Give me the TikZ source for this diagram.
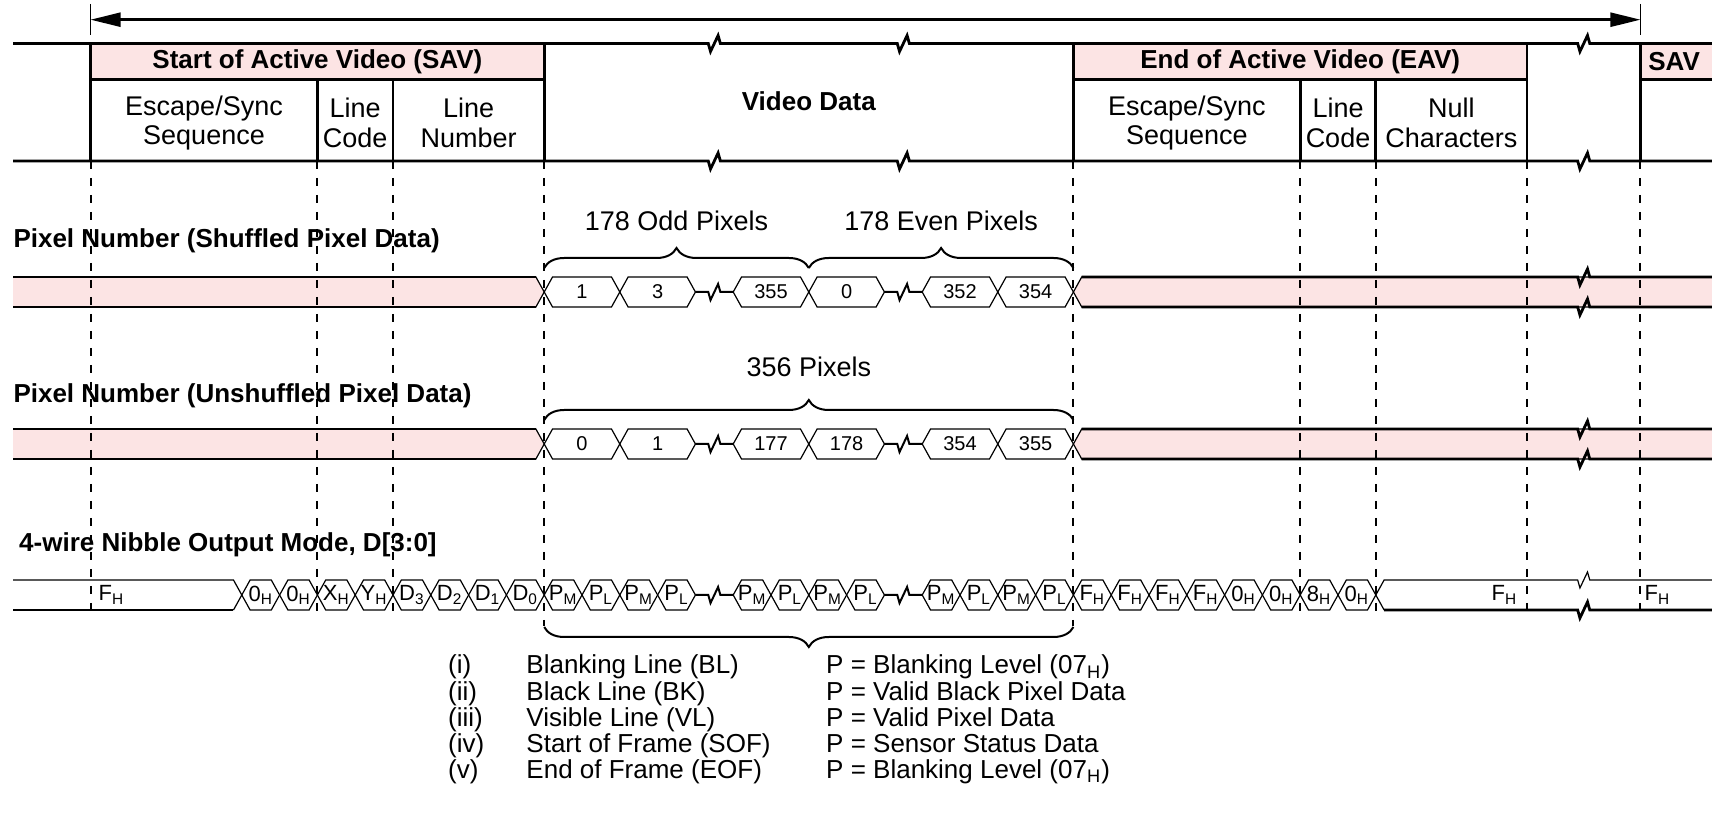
\documentclass[tikz,border=0pt]{standalone}
\usepackage{fontspec}
\setmainfont{Liberation Sans}
\usetikzlibrary{arrows.meta,decorations.pathreplacing}

\definecolor{pinkfill}{RGB}{252,228,228}
\newcommand\idx[1]{\textsubscript{#1}}
\newcommand\edg{0.22}

\begin{document}
\begin{tikzpicture}[x=18.9pt, y=-0.5pt,
  bus/.style={line width=1.4pt},
  cell/.style={line width=0.6pt},
  joint/.style={line width=1pt},
  vguide/.style={line width=1pt, dash pattern=on 4pt off 4.5pt},
  head/.style={font=\fontsize{13}{15}\selectfont\bfseries, inner sep=0pt},
  txt/.style={font=\fontsize{13.5}{14.75}\selectfont, align=center, inner sep=0pt},
  lgd/.style={font=\fontsize{13}{14}\selectfont, inner sep=0pt, anchor=base west},
  nib/.style={font=\fontsize{11}{12}\selectfont, inner sep=0pt},
  pix/.style={font=\fontsize{10}{11}\selectfont, inner sep=0pt},
  lnbreak/.style={insert path={-- ++(0.06,8) -- ++(0.2,-16) -- ++(0.06,8)}},
  brc/.style={decorate, decoration={brace, amplitude=10pt}, line width=1pt}]
\useasboundingbox (-2.397,0) rectangle (42.894,838);

% top span arrow
\coordinate (al) at (0,19.7);
\coordinate (ar) at (41,19.7);
\draw[line width=1.3pt, {Triangle[length=15pt,width=7pt]}-{Triangle[length=15pt,width=7pt]}] (al) -- (ar);
\draw[cell] (0,4) -- (0,35) (41,4) -- (41,35);

% header table
\fill[pinkfill] (0,43.5) rectangle (12,79.5) (26,43.5) rectangle (38,79.5) (41,43.5) rectangle (42.9,79.5);
\foreach \y in {43.5,161}
  \draw[bus] (-2.05,\y) -- (16.34,\y) [lnbreak] -- (21.34,\y) [lnbreak] -- (39.34,\y) [lnbreak] -- (42.9,\y);
\draw[bus] (0,79.5) -- (12,79.5) (26,79.5) -- (38,79.5) (41,79.5) -- (42.9,79.5);
\foreach \x in {0,12,26,38,41} \draw[bus] (\x,43.5) -- (\x,161);
\foreach \x in {6,8,32,34} \draw[bus] (\x,79.5) -- (\x,161);

\node[head] (sav) at (6,61.5) {Start of Active Video (SAV)};
\node[head] (eav) at (32,61.5) {End of Active Video (EAV)};
\node[head, anchor=west] (savnext) at (41.2,61.5) {SAV};
\node[head] (vdata) at (19,101) {Video Data};
\node[txt] (esc1) at (3,123) {Escape/Sync\\Sequence};
\node[txt] (lcode1) at (7,123) {Line\\Code};
\node[txt] (lnum) at (10,123) {Line\\Number};
\node[txt] (esc2) at (29,123) {Escape/Sync\\Sequence};
\node[txt] (lcode2) at (33,123) {Line\\Code};
\node[txt] (nullc) at (36,123) {Null\\Characters};

% row labels
\node[head, anchor=west] (lshuf) at (-2.05,241) {Pixel Number (Shuffled Pixel Data)};
\node[head, anchor=west] (lunsh) at (-2.05,396) {Pixel Number (Unshuffled Pixel Data)};
\node[head, anchor=west] (lnib) at (-1.9,545) {4-wire Nibble Output Mode, D[3:0]};

% pink buses
\foreach \y in {292,444} {
  \filldraw[cell, fill=pinkfill] (-2.05,\y-15) -- (12-\edg,\y-15) -- (12,\y) -- (12-\edg,\y+15) -- (-2.05,\y+15);
  \draw[bus] (-2.05,\y-15) -- (12-\edg,\y-15) (-2.05,\y+15) -- (12-\edg,\y+15);
  \filldraw[cell, fill=pinkfill] (42.9,\y-15) -- (26+\edg,\y-15) -- (26,\y) -- (26+\edg,\y+15) -- (42.9,\y+15);
  \draw[bus] (26+\edg,\y-15) -- (39.34,\y-15) [lnbreak] -- (42.9,\y-15)
    (26+\edg,\y+15) -- (39.34,\y+15) [lnbreak] -- (42.9,\y+15);
}

% pixel cells
\foreach \a/\t [count=\i] in {12/1,14/3,17/355,19/0,22/352,24/354}
  \draw[cell] (\a,292) -- (\a+\edg,277) -- (\a+2-\edg,277) -- (\a+2,292) -- (\a+2-\edg,307) -- (\a+\edg,307) -- cycle
    node[pix] (sp\i) at (\a+1,292) {\t};
\foreach \a/\t [count=\i] in {12/0,14/1,17/177,19/178,22/354,24/355}
  \draw[cell] (\a,444) -- (\a+\edg,429) -- (\a+2-\edg,429) -- (\a+2,444) -- (\a+2-\edg,459) -- (\a+\edg,459) -- cycle
    node[pix] (up\i) at (\a+1,444) {\t};

% nibble cells
\foreach \a/\t [count=\i] in {4/0\idx{H},5/0\idx{H},6/X\idx{H},7/Y\idx{H},8/D\idx{3},9/D\idx{2},10/D\idx{1},11/D\idx{0},
    12/P\idx{M},13/P\idx{L},14/P\idx{M},15/P\idx{L},17/P\idx{M},18/P\idx{L},19/P\idx{M},20/P\idx{L},
    22/P\idx{M},23/P\idx{L},24/P\idx{M},25/P\idx{L},26/F\idx{H},27/F\idx{H},28/F\idx{H},29/F\idx{H},
    30/0\idx{H},31/0\idx{H},32/8\idx{H},33/0\idx{H}}
  \draw[cell] (\a,595) -- (\a+\edg,580) -- (\a+1-\edg,580) -- (\a+1,595) -- (\a+1-\edg,610) -- (\a+\edg,610) -- cycle
    node[nib] (nb\i) at (\a+0.5,595) {\t};
\draw[cell] (-2.05,580) -- (4-\edg,580) -- (4,595) -- (4-\edg,610);
\draw[bus] (4-\edg,610) -- (-2.05,610);
\draw[cell] (34+\edg,610) -- (34,595) -- (34+\edg,580) -- (39.34,580) [lnbreak] -- (42.9,580);
\draw[bus] (34+\edg,610) -- (39.34,610) [lnbreak] -- (42.9,610);
\node[nib] (fh1) at (0.55,595) {F\idx{H}};
\node[nib] (fh2) at (37.4,595) {F\idx{H}};
\node[nib] (fh3) at (41.45,595) {F\idx{H}};

% skipped stretches
\foreach \y in {292,444,595}
  \draw[joint] (16,\y) -- (16.34,\y) [lnbreak] -- (17,\y) (21,\y) -- (21.34,\y) [lnbreak] -- (22,\y);

% braces
\draw[brc] (12,268) -- (19,268);
\draw[brc] (19,268) -- (26,268);
\draw[brc] (12,420) -- (26,420);
\draw[brc] (26,627) -- (12,627);
\node[txt] (odd) at (15.5,221) {178 Odd Pixels};
\node[txt] (even) at (22.5,221) {178 Even Pixels};
\node[txt] (allpx) at (19,367) {356 Pixels};

% guide lines
\foreach \x in {0,6,8,32,34,38,41} \draw[vguide] (\x,161) -- (\x,612);
\foreach \x in {12,26} \draw[vguide] (\x,161) -- (\x,626);

% line types
\foreach \r/\d/\p [count=\i, evaluate=\i as \yy using 674+26*(\i-1)] in
  {{(i)}/{Blanking Line (BL)}/{P = Blanking Level (07\idx{H})},
   {(ii)}/{Black Line (BK)}/{P = Valid Black Pixel Data},
   {(iii)}/{Visible Line (VL)}/{P = Valid Pixel Data},
   {(iv)}/{Start of Frame (SOF)}/{P = Sensor Status Data},
   {(v)}/{End of Frame (EOF)}/{P = Blanking Level (07\idx{H})}} {
  \node[lgd] (nr\i) at (9.45,\yy) {\r};
  \node[lgd] (ty\i) at (11.52,\yy) {\d};
  \node[lgd] (pv\i) at (19.45,\yy) {\p};
}
\end{tikzpicture}
\end{document}
